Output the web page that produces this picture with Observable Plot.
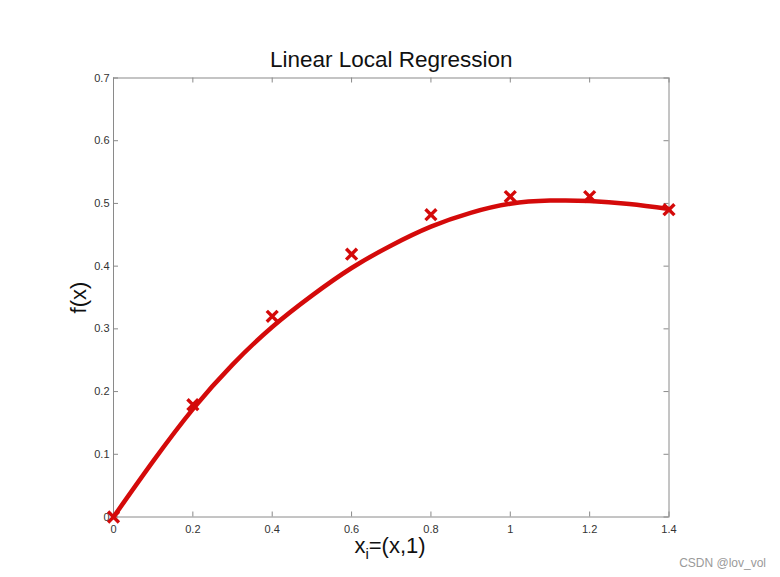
<!DOCTYPE html>
<html>
<head>
<meta charset="utf-8">
<script src="https://cdn.jsdelivr.net/npm/d3@7"></script>
<script src="https://cdn.jsdelivr.net/npm/@observablehq/plot@0.6"></script>
<style>
  html, body { margin: 0; padding: 0; background: #fff; }
  #chart { width: 780px; height: 577px; }
  svg { font-family: "Liberation Sans", Arial, sans-serif; }
</style>
</head>
<body>
<div id="chart"></div>
<script>
// Sample points (markers)
const sampleX = [0, 0.2, 0.4, 0.6, 0.8, 1.0, 1.2, 1.4];
const sampleY = [0, 0.179, 0.320, 0.419, 0.482, 0.511, 0.511, 0.490];

// Fitted curve
const curveX = [0, 0.1, 0.2, 0.3, 0.4, 0.5, 0.6, 0.7, 0.8, 0.9, 1.0, 1.1, 1.2, 1.3, 1.4];
const curveY = [0, 0.089, 0.172, 0.243, 0.303, 0.353, 0.397, 0.433, 0.463, 0.485, 0.4995, 0.5045, 0.504, 0.499, 0.491];

const xTicks = [0, 0.2, 0.4, 0.6, 0.8, 1, 1.2, 1.4];
const yTicks = [0, 0.1, 0.2, 0.3, 0.4, 0.5, 0.6, 0.7];

const title = "Linear Local Regression";
const yLabel = "f(x)";
const watermark = "CSDN @lov_vol";

const points = sampleX.map((x, i) => ({x, y: sampleY[i]}));
const curve = curveX.map((x, i) => ({x, y: curveY[i]}));

const W = 780, H = 577;
const mL = 113, mR = 111.5, mT = 77.5, mB = 60.5;
const innerH = H - mT - mB, innerW = W - mL - mR;
const tickLen = 5;
const red = "#d40a0a";
const axisColor = "#8a8a8a";

const chart = Plot.plot({
  width: W,
  height: H,
  marginLeft: mL,
  marginRight: mR,
  marginTop: mT,
  marginBottom: mB,
  style: {background: "#fff", fontFamily: "'Liberation Sans', Arial, sans-serif"},
  x: {domain: [0, 1.4]},
  y: {domain: [0, 0.7]},
  marks: [
    Plot.frame({stroke: axisColor, strokeWidth: 1}),
    // inward ticks: bottom & top
    Plot.tickX(xTicks, {x: d => d, stroke: axisColor, insetTop: innerH - tickLen}),
    Plot.tickX(xTicks, {x: d => d, stroke: axisColor, insetBottom: innerH - tickLen}),
    // inward ticks: left & right
    Plot.tickY(yTicks, {y: d => d, stroke: axisColor, insetRight: innerW - tickLen}),
    Plot.tickY(yTicks, {y: d => d, stroke: axisColor, insetLeft: innerW - tickLen}),
    Plot.axisX(xTicks, {tickSize: 0, tickPadding: 8, fontSize: 11, fill: "#333", tickFormat: d => String(d), label: null}),
    Plot.axisY(yTicks, {tickSize: 0, tickPadding: 4, fontSize: 11, fill: "#333", tickFormat: d => String(d), label: null}),
    Plot.line(curve, {x: "x", y: "y", stroke: red, strokeWidth: 4.5, curve: "natural"}),
    Plot.dot(points, {x: "x", y: "y", symbol: "times", r: 5, stroke: red, strokeWidth: 3.4}),
    Plot.text([title], {text: d => d, frameAnchor: "top", dy: -11, fontSize: 22.5, fill: "#111", lineAnchor: "bottom"}),
    Plot.text([yLabel], {text: d => d, frameAnchor: "left", dx: -35, rotate: -90, fontSize: 22, fill: "#111", textAnchor: "middle"}),
    Plot.text([watermark], {text: d => d, frameAnchor: "bottom-right", dx: 97, dy: 50, fontSize: 12, fill: "#9a9a9a", textAnchor: "end"})
  ]
});

// x label with subscript
const svg = d3.select(chart);
const lab = svg.append("text")
  .attr("x", 390)
  .attr("y", 553)
  .attr("text-anchor", "middle")
  .attr("font-size", 22)
  .attr("fill", "#111")
  .attr("font-family", "'Liberation Sans', Arial, sans-serif");
lab.append("tspan").text("x");
lab.append("tspan").attr("font-size", 15).attr("dy", 6).text("i");
lab.append("tspan").attr("dy", -6).text("=(x,1)");

document.getElementById("chart").appendChild(chart);
</script>
</body>
</html>
